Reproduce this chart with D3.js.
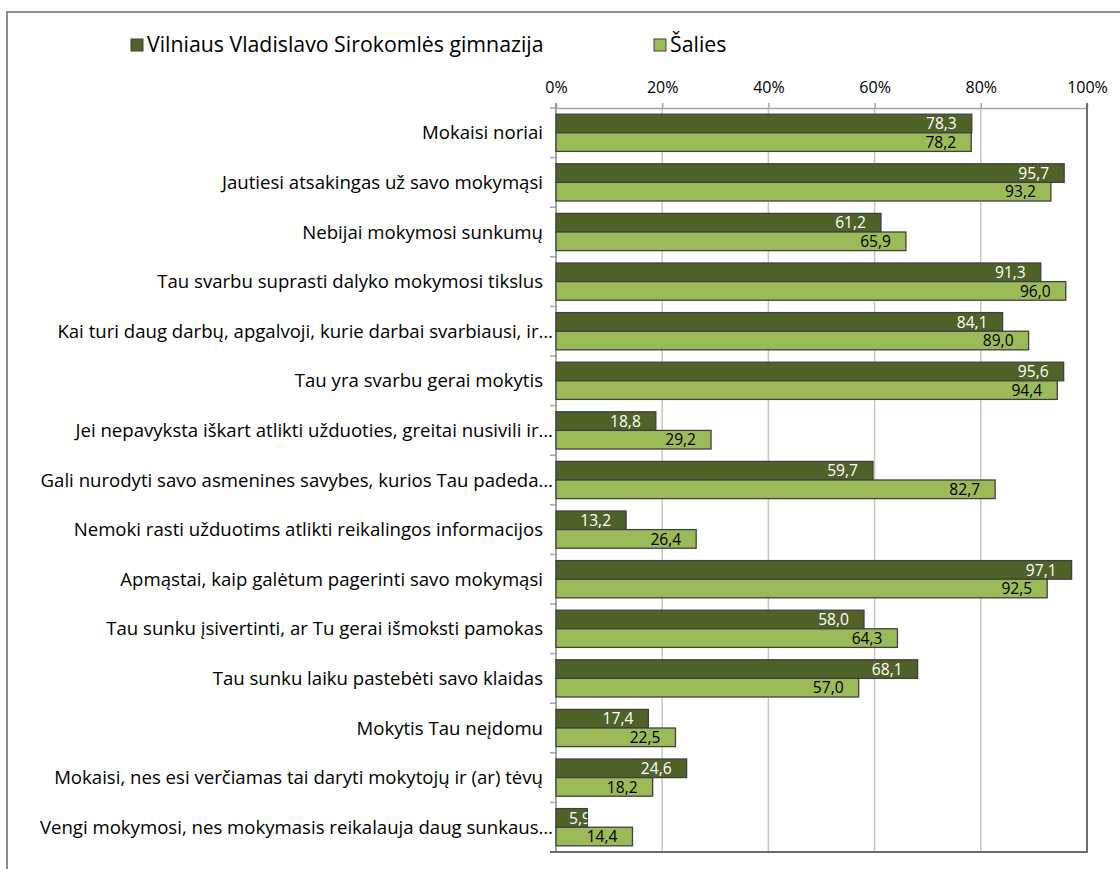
<!DOCTYPE html>
<html><head><meta charset="utf-8">
<script src="https://cdn.jsdelivr.net/npm/d3@7"></script>
<style>html,body{margin:0;padding:0;background:#fff;} svg{display:block;}</style>
</head><body>
<svg id="c" width="1120" height="869"></svg>
<script>
const categories = [
  "Mokaisi noriai",
  "Jautiesi atsakingas už savo mokymąsi",
  "Nebijai mokymosi sunkumų",
  "Tau svarbu suprasti dalyko mokymosi tikslus",
  "Kai turi daug darbų, apgalvoji, kurie darbai svarbiausi, ir…",
  "Tau yra svarbu gerai mokytis",
  "Jei nepavyksta iškart atlikti užduoties, greitai nusivili ir…",
  "Gali nurodyti savo asmenines savybes, kurios Tau padeda…",
  "Nemoki rasti užduotims atlikti reikalingos informacijos",
  "Apmąstai, kaip galėtum pagerinti savo mokymąsi",
  "Tau sunku įsivertinti, ar Tu gerai išmoksti pamokas",
  "Tau sunku laiku pastebėti savo klaidas",
  "Mokytis Tau neįdomu",
  "Mokaisi, nes esi verčiamas tai daryti mokytojų ir (ar) tėvų",
  "Vengi mokymosi, nes mokymasis reikalauja daug sunkaus…"
];
const schoolValues = [78.3, 95.7, 61.2, 91.3, 84.1, 95.6, 18.8, 59.7, 13.2, 97.1, 58.0, 68.1, 17.4, 24.6, 5.9];
const countryValues = [78.2, 93.2, 65.9, 96.0, 89.0, 94.4, 29.2, 82.7, 26.4, 92.5, 64.3, 57.0, 22.5, 18.2, 14.4];
const seriesNames = ["Vilniaus Vladislavo Sirokomlės gimnazija", "Šalies"];
const tickValues = [0, 20, 40, 60, 80, 100];

const FONT = "'Open Sans', sans-serif";
const colors = ["#4F6228", "#9BBB59"];
const labelColors = ["#ffffff", "#000000"];

const svg = d3.select("#c");

// outer frame
svg.append("rect").attr("x", 7).attr("y", 12).attr("width", 1300).attr("height", 1000)
  .attr("fill", "none").attr("stroke", "#8c8c8c").attr("stroke-width", 2);

const x = d3.scaleLinear().domain([0, 100]).range([556, 1087]);
const y = d3.scaleBand().domain(categories).range([108, 852]).paddingInner(0.25).paddingOuter(0.125);
const y0 = 108, y1 = 852;

// gridlines
svg.append("g").selectAll("line").data(tickValues.filter(t => t > 0 && t < 100)).join("line")
  .attr("x1", d => x(d)).attr("x2", d => x(d)).attr("y1", y0).attr("y2", y1)
  .attr("stroke", "#C6C6C6").attr("stroke-width", 1.5);

// top axis
const xAxis = d3.axisTop(x).tickValues(tickValues).tickFormat(d => d + "%").tickSize(5).tickSizeOuter(0);
const gx = svg.append("g").attr("transform", `translate(0,${y0})`).call(xAxis);
gx.select(".domain").attr("stroke", "#A6A6A6").attr("stroke-width", 1.5);
gx.selectAll(".tick line").attr("stroke", "#A6A6A6").attr("stroke-width", 1.5);
gx.selectAll(".tick text").attr("font-family", FONT).attr("font-size", 16).attr("fill", "#000").attr("dy", "-0.45em");

// left axis ticks at category boundaries
const bounds = categories.map(c => y(c) - y.step() * y.paddingInner() / 2);
bounds.push(y1);
svg.append("g").selectAll("line").data(bounds).join("line")
  .attr("x1", 550).attr("x2", x(0)).attr("y1", d => d).attr("y2", d => d)
  .attr("stroke", "#A6A6A6").attr("stroke-width", 1.5);
svg.append("line").attr("x1", x(0)).attr("x2", x(0)).attr("y1", y0 - 5).attr("y2", y1)
  .attr("stroke", "#8a8a8a").attr("stroke-width", 1.5);

// right and bottom border of plot
svg.append("path").attr("d", `M${x(100)},${y0 - 5}V${y1}H${x(0) - 6}`)
  .attr("fill", "none").attr("stroke", "#6b6b6b").attr("stroke-width", 2);

// category labels
svg.append("g").selectAll("text").data(categories).join("text")
  .attr("x", d => d.endsWith("…") ? 553 : 543).attr("y", d => y(d) + y.bandwidth() / 2)
  .attr("dy", "0.35em").attr("text-anchor", "end")
  .attr("font-family", FONT).attr("font-size", 18.6).attr("fill", "#000")
  .text(d => d);

// bars
const sub = d3.scaleBand().domain([0, 1]).range([0, y.bandwidth()]);
const series = [schoolValues, countryValues];
const defs = svg.append("defs");
series.forEach((vals, si) => {
  const g = svg.append("g");
  g.selectAll("rect").data(vals).join("rect")
    .attr("x", x(0)).attr("y", (d, i) => y(categories[i]) + sub(si))
    .attr("width", d => x(d) - x(0)).attr("height", sub.bandwidth())
    .attr("fill", colors[si]).attr("stroke", "#404040").attr("stroke-width", 1.3);
  vals.forEach((v, i) => {
    const id = `clip-${si}-${i}`;
    defs.append("clipPath").attr("id", id).append("rect")
      .attr("x", x(0)).attr("y", y(categories[i]) + sub(si))
      .attr("width", x(v) - x(0)).attr("height", sub.bandwidth());
    const t = svg.append("text")
      .attr("clip-path", `url(#${id})`)
      .attr("y", y(categories[i]) + sub(si) + sub.bandwidth() / 2)
      .attr("dy", "0.36em")
      .attr("font-family", FONT).attr("font-size", 15.6).attr("fill", labelColors[si])
      .text(d3.format(".1f")(v).replace(".", ","));
    const w = t.node().getComputedTextLength();
    const xr = Math.max(x(v) - 15 - w, x(0) + 13);
    t.attr("x", xr);
  });
});

// legend
const legend = svg.append("g");
const legX = [131, 654];
seriesNames.forEach((n, i) => {
  legend.append("rect").attr("x", legX[i]).attr("y", 39).attr("width", 12).attr("height", 12)
    .attr("fill", colors[i]).attr("stroke", "#404040").attr("stroke-width", 1);
  legend.append("text").attr("x", legX[i] + 16).attr("y", 45).attr("dy", "0.35em")
    .attr("font-family", FONT).attr("font-size", 21.3).attr("fill", "#000").text(n);
});
</script>
</body></html>
